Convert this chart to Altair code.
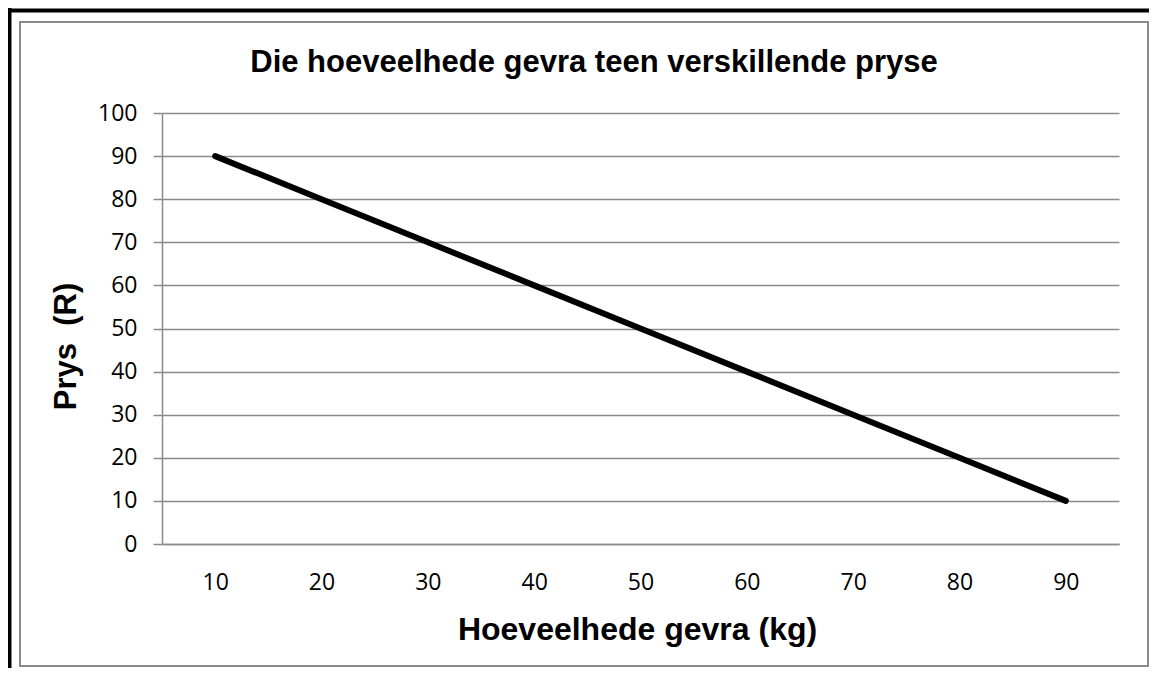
import altair as alt
import pandas as pd

# Data
quantities = [10, 20, 30, 40, 50, 60, 70, 80, 90]   # Hoeveelhede gevra (kg)
prices = [90, 80, 70, 60, 50, 40, 30, 20, 10]        # Prys (R)
y_ticks = [0, 10, 20, 30, 40, 50, 60, 70, 80, 90, 100]

title_text = "Die hoeveelhede gevra teen verskillende pryse"
x_title = "Hoeveelhede gevra (kg)"
y_title = "Prys \u00a0(R)"

df = pd.DataFrame({"Hoeveelheid": quantities, "Prys": prices})
one = pd.DataFrame({"k": [0]})

GRAY = "#8a8a8a"
W, H = 957, 431

line = alt.Chart(df).mark_line(color="black", strokeWidth=6, strokeCap="round", strokeJoin="round").encode(
    x=alt.X("Hoeveelheid:O", sort=quantities,
            axis=alt.Axis(title=x_title, labelAngle=0, ticks=False, tickSize=0, grid=False,
                          domain=True, domainColor=GRAY, domainWidth=1.5,
                          labelFont="Open Sans", labelFontSize=23, labelColor="black",
                          labelPadding=27,
                          titleFont="Liberation Sans", titleFontSize=32, titleFontWeight="bold",
                          titleColor="black", titleX=475, titleY=95, titleAlign="center",
                          titleBaseline="alphabetic")),
    y=alt.Y("Prys:Q", scale=alt.Scale(domain=[0, 100], nice=False),
            axis=alt.Axis(title=y_title, values=y_ticks, grid=True, gridColor=GRAY, gridWidth=1.5,
                          domain=True, domainColor=GRAY, domainWidth=1.5,
                          ticks=True, tickColor=GRAY, tickSize=9, tickWidth=1.5,
                          labelFont="Open Sans", labelFontSize=23, labelColor="black",
                          labelPadding=16,
                          titleFont="Liberation Sans", titleFontSize=31, titleFontWeight="bold",
                          titleColor="black", titleX=-87, titleY=233, titleAngle=270,
                          titleAlign="center", titleBaseline="alphabetic")),
)

# chart area frame (gray) and outer black border
gray_frame = alt.Chart(one).mark_rect(filled=False, stroke=GRAY, strokeWidth=2).encode(
    x=alt.value(-142), x2=alt.value(986), y=alt.value(-91), y2=alt.value(553)
)
black_top = alt.Chart(one).mark_rule(color="black", strokeWidth=4).encode(
    x=alt.value(-160), x2=alt.value(1000), y=alt.value(-102.5)
)
black_left = alt.Chart(one).mark_rule(color="black", strokeWidth=4).encode(
    x=alt.value(-152.5), y=alt.value(-105), y2=alt.value(580)
)
title = alt.Chart(one).mark_text(font="Liberation Sans", fontSize=31, fontWeight="bold",
                                 color="black", align="center", baseline="alphabetic").encode(
    x=alt.value(432), y=alt.value(-41), text=alt.value(title_text)
)

chart = alt.layer(gray_frame, black_top, black_left, line, title).properties(
    width=W, height=H,
    autosize=alt.AutoSizeParams(type="none"),
    padding={"left": 154, "top": 105, "right": 30, "bottom": 124},
    background="white",
).configure_view(stroke=None)

chart.save("out.html", embed_options={"renderer": "svg", "actions": False})
